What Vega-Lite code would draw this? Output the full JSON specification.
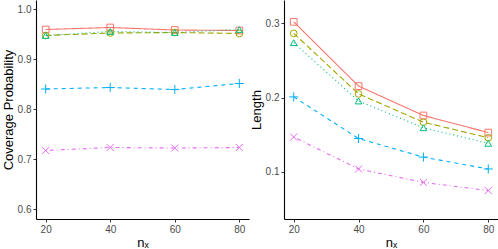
{
  "$schema": "https://vega.github.io/schema/vega-lite/v6.json",
  "padding": {"left": 2, "top": 0, "right": 0, "bottom": 0},
  "spacing": 1,
  "background": "white",
  "config": {
    "view": {"stroke": null},
    "font": "Liberation Sans",
    "axis": {
      "grid": false,
      "domainColor": "#000000",
      "domainWidth": 1.1,
      "tickColor": "#333333",
      "tickSize": 3,
      "tickWidth": 1,
      "labelColor": "#4D4D4D",
      "labelFontSize": 10,
      "labelPadding": 2,
      "titleFontSize": 13,
      "titleFontWeight": "normal",
      "titleColor": "#000000",
      "titlePadding": 2,
      "labelFont": "Liberation Sans",
      "titleFont": "Liberation Sans"
    }
  },
  "datasets": {
    "rows": [
      {"panel": "cov", "series": "S1", "n": 20, "value": 0.959},
      {"panel": "cov", "series": "S1", "n": 40, "value": 0.963},
      {"panel": "cov", "series": "S1", "n": 60, "value": 0.958},
      {"panel": "cov", "series": "S1", "n": 80, "value": 0.957},
      {"panel": "cov", "series": "S2", "n": 20, "value": 0.947},
      {"panel": "cov", "series": "S2", "n": 40, "value": 0.952},
      {"panel": "cov", "series": "S2", "n": 60, "value": 0.953},
      {"panel": "cov", "series": "S2", "n": 80, "value": 0.951},
      {"panel": "cov", "series": "S3", "n": 20, "value": 0.947},
      {"panel": "cov", "series": "S3", "n": 40, "value": 0.955},
      {"panel": "cov", "series": "S3", "n": 60, "value": 0.953},
      {"panel": "cov", "series": "S3", "n": 80, "value": 0.959},
      {"panel": "cov", "series": "S4", "n": 20, "value": 0.840},
      {"panel": "cov", "series": "S4", "n": 40, "value": 0.843},
      {"panel": "cov", "series": "S4", "n": 60, "value": 0.839},
      {"panel": "cov", "series": "S4", "n": 80, "value": 0.851},
      {"panel": "cov", "series": "S5", "n": 20, "value": 0.717},
      {"panel": "cov", "series": "S5", "n": 40, "value": 0.723},
      {"panel": "cov", "series": "S5", "n": 60, "value": 0.722},
      {"panel": "cov", "series": "S5", "n": 80, "value": 0.723},
      {"panel": "len", "series": "S1", "n": 20, "value": 0.302},
      {"panel": "len", "series": "S1", "n": 40, "value": 0.2156},
      {"panel": "len", "series": "S1", "n": 60, "value": 0.176},
      {"panel": "len", "series": "S1", "n": 80, "value": 0.153},
      {"panel": "len", "series": "S2", "n": 20, "value": 0.2865},
      {"panel": "len", "series": "S2", "n": 40, "value": 0.205},
      {"panel": "len", "series": "S2", "n": 60, "value": 0.167},
      {"panel": "len", "series": "S2", "n": 80, "value": 0.146},
      {"panel": "len", "series": "S3", "n": 20, "value": 0.274},
      {"panel": "len", "series": "S3", "n": 40, "value": 0.1955},
      {"panel": "len", "series": "S3", "n": 60, "value": 0.1595},
      {"panel": "len", "series": "S3", "n": 80, "value": 0.1385},
      {"panel": "len", "series": "S4", "n": 20, "value": 0.201},
      {"panel": "len", "series": "S4", "n": 40, "value": 0.145},
      {"panel": "len", "series": "S4", "n": 60, "value": 0.120},
      {"panel": "len", "series": "S4", "n": 80, "value": 0.104},
      {"panel": "len", "series": "S5", "n": 20, "value": 0.147},
      {"panel": "len", "series": "S5", "n": 40, "value": 0.104},
      {"panel": "len", "series": "S5", "n": 60, "value": 0.086},
      {"panel": "len", "series": "S5", "n": 80, "value": 0.075}
    ]
  },
  "hconcat": [
    {
      "width": 213,
      "height": 219,
      "data": {"name": "rows"},
      "transform": [{"filter": "datum.panel === 'cov'"}],
      "encoding": {
        "x": {"field": "n", "type": "quantitative", "title": "nₓ",
              "scale": {"domain": [17, 83], "nice": false, "zero": false},
              "axis": {"values": [20, 40, 60, 80]}},
        "y": {"field": "value", "type": "quantitative", "title": "Coverage Probability",
              "scale": {"domain": [0.58, 1.018], "nice": false, "zero": false},
              "axis": {"values": [0.6, 0.7, 0.8, 0.9, 1.0], "format": ".1f"}},
        "color": {"field": "series", "type": "nominal", "legend": null,
                  "scale": {"domain": ["S1", "S2", "S3", "S4", "S5"],
                            "range": ["#F8766D", "#A3A500", "#00BF7D", "#00B0F6", "#E76BF3"]}}
      },
      "layer": [
        {
          "mark": {"type": "line", "strokeWidth": 1.1},
          "encoding": {
            "strokeDash": {"field": "series", "type": "nominal", "legend": null,
                           "scale": {"domain": ["S1", "S2", "S3", "S4", "S5"],
                                     "range": [[1, 0], [6, 3], [1, 3], [4, 4], [1, 3, 4, 3]]}}
          }
        },
        {
          "mark": {"type": "point", "filled": false, "strokeWidth": 1, "size": 45, "opacity": 1},
          "encoding": {
            "shape": {"field": "series", "type": "nominal", "legend": null,
                      "scale": {"domain": ["S1", "S2", "S3", "S4", "S5"],
                                "range": ["square", "circle", "triangle-up",
                                          "M-1.35,0L1.35,0M0,-1.35L0,1.35",
                                          "M-1.05,-1.05L1.05,1.05M-1.05,1.05L1.05,-1.05"]}}
          }
        }
      ]
    },
    {
      "width": 214,
      "height": 219,
      "data": {"name": "rows"},
      "transform": [{"filter": "datum.panel === 'len'"}],
      "encoding": {
        "x": {"field": "n", "type": "quantitative", "title": "nₓ",
              "scale": {"domain": [17, 83], "nice": false, "zero": false},
              "axis": {"values": [20, 40, 60, 80]}},
        "y": {"field": "value", "type": "quantitative", "title": "Length",
              "scale": {"domain": [0.0367, 0.3314], "nice": false, "zero": false},
              "axis": {"values": [0.1, 0.2, 0.3], "format": ".1f"}},
        "color": {"field": "series", "type": "nominal", "legend": null,
                  "scale": {"domain": ["S1", "S2", "S3", "S4", "S5"],
                            "range": ["#F8766D", "#A3A500", "#00BF7D", "#00B0F6", "#E76BF3"]}}
      },
      "layer": [
        {
          "mark": {"type": "line", "strokeWidth": 1.1},
          "encoding": {
            "strokeDash": {"field": "series", "type": "nominal", "legend": null,
                           "scale": {"domain": ["S1", "S2", "S3", "S4", "S5"],
                                     "range": [[1, 0], [6, 3], [1, 3], [4, 4], [1, 3, 4, 3]]}}
          }
        },
        {
          "mark": {"type": "point", "filled": false, "strokeWidth": 1, "size": 45, "opacity": 1},
          "encoding": {
            "shape": {"field": "series", "type": "nominal", "legend": null,
                      "scale": {"domain": ["S1", "S2", "S3", "S4", "S5"],
                                "range": ["square", "circle", "triangle-up",
                                          "M-1.35,0L1.35,0M0,-1.35L0,1.35",
                                          "M-1.05,-1.05L1.05,1.05M-1.05,1.05L1.05,-1.05"]}}
          }
        }
      ]
    }
  ]
}
